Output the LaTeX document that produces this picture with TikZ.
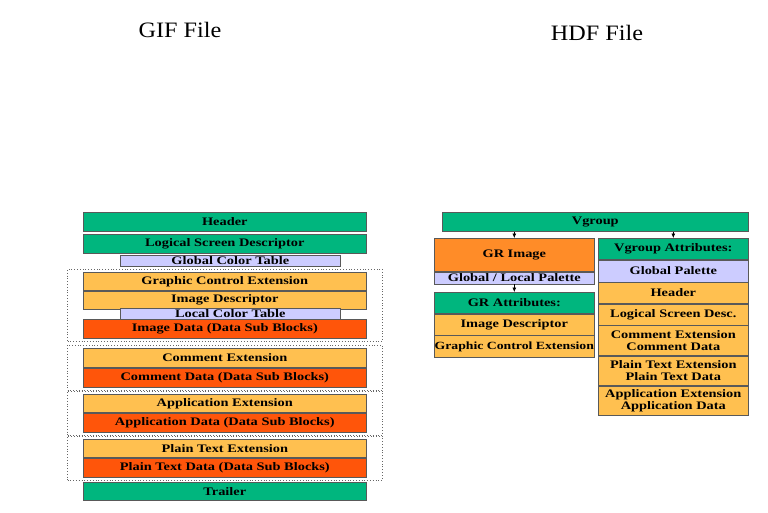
\documentclass[tikz,border=0pt]{standalone}
\usepackage{fontspec}
\setmainfont{Liberation Serif}
\newfontfamily\boxfont[FakeStretch=1.25]{Liberation Serif}
\newfontfamily\titlefont[FakeStretch=1.1]{Liberation Serif}
\usetikzlibrary{arrows.meta,positioning,fit}
\definecolor{hdrgreen}{RGB}{0,182,126}
\definecolor{extorange}{RGB}{255,192,80}
\definecolor{datared}{RGB}{255,85,10}
\definecolor{imgorange}{RGB}{255,140,40}
\definecolor{tablelav}{RGB}{204,204,255}
\tikzset{
    blk/.style={
        draw=black!65,
        line width=0.6pt,
        inner sep=0pt,
        align=center,
        font=\boxfont\bfseries\fontsize{11.5}{12}\selectfont
    },
    gifbar/.style={
        blk,
        minimum width=283pt,
        minimum height=19pt
    },
    tablebar/.style={
        blk,
        fill=tablelav,
        minimum width=220pt,
        minimum height=11pt
    },
    grbar/.style={
        blk,
        minimum width=160pt
    },
    attrbar/.style={
        blk,
        minimum width=150pt
    },
    group/.style={
        draw=black!60,
        dotted,
        line width=0.8pt,
        inner xsep=15.5pt,
        inner ysep=3pt
    },
    arrow/.style={
        -{Latex[length=4.5pt,width=4pt]},
        line width=0.6pt
    },
    title/.style={font=\titlefont\fontsize{22}{24}\selectfont}
}
\begin{document}
\begin{tikzpicture}[x=1pt,y=-1pt,node distance=0pt]
\useasboundingbox[fill=white] (0,0) rectangle (768,512);

\node[title] (giftitle) at (180,30) {GIF File};
\node[title] (hdftitle) at (597,33) {HDF File};

% GIF side
\node[gifbar, fill=hdrgreen, anchor=north west] (hdr) at (83,212) {Header};
\node[gifbar, fill=hdrgreen, anchor=north west] (lsd) at (83,234) {Logical Screen Descriptor};
\node[tablebar, anchor=north west] (gct) at (120,255) {Global Color Table};

\node[gifbar, fill=extorange, minimum height=18pt, anchor=north west] (gce) at (83,272) {Graphic Control Extension};
\node[gifbar, fill=extorange, minimum height=18pt, below=of gce] (imgdesc) {Image Descriptor};
\node[tablebar, anchor=north west] (lct) at (120,308) {Local Color Table};
\node[gifbar, fill=datared, anchor=north west] (imgdata) at (83,319) {Image Data (Data Sub Blocks)};

\node[gifbar, fill=extorange, anchor=north west] (cmtext) at (83,348) {Comment Extension};
\node[gifbar, fill=datared, below=of cmtext] (cmtdata) {Comment Data (Data Sub Blocks)};

\node[gifbar, fill=extorange, minimum height=18pt, anchor=north west] (appext) at (83,394) {Application Extension};
\node[gifbar, fill=datared, below=of appext] (appdata) {Application Data (Data Sub Blocks)};

\node[gifbar, fill=extorange, minimum height=18pt, anchor=north west] (ptext) at (83,439) {Plain Text Extension};
\node[gifbar, fill=datared, below=of ptext] (ptdata) {Plain Text Data (Data Sub Blocks)};

\node[gifbar, fill=hdrgreen, minimum height=18pt, anchor=north west] (trailer) at (83,482) {Trailer};

\node[group, fit=(gce)(imgdata)] (grp1) {};
\node[group, fit=(cmtext)(cmtdata)] (grp2) {};
\node[group, fit=(appext)(appdata)] (grp3) {};
\node[group, fit=(ptext)(ptdata)] (grp4) {};

% HDF side
\node[blk, fill=hdrgreen, minimum width=306pt, minimum height=19pt, anchor=north west] (vgroup) at (442,212) {Vgroup};

\node[grbar, fill=imgorange, minimum height=33pt, anchor=north west] (grimage) at (434,238) {GR Image};
\node[grbar, fill=tablelav, minimum height=12pt, below=of grimage] (palette) {Global / Local Palette};
\node[grbar, fill=hdrgreen, minimum height=21pt, anchor=north west] (grattr) at (434,292) {GR Attributes:};
\node[grbar, fill=extorange, minimum height=21pt, below=of grattr] (grdesc) {Image Descriptor};
\node[grbar, fill=extorange, minimum height=22pt, below=of grdesc,
      font=\boxfont\bfseries\fontsize{11}{12}\selectfont] (grgce) {Graphic Control Extension};

\node[attrbar, fill=hdrgreen, minimum height=21pt, anchor=north west] (vattr) at (598,238) {Vgroup Attributes:};
\node[attrbar, fill=tablelav, minimum height=22pt, below=of vattr] (gpal) {Global Palette};
\node[attrbar, fill=extorange, minimum height=21pt, below=of gpal] (vhdr) {Header};
\node[attrbar, fill=extorange, minimum height=21pt, below=of vhdr] (vlsd) {Logical Screen Desc.};
\node[attrbar, fill=extorange, minimum height=30pt, below=of vlsd] (vcmt) {Comment Extension\\Comment Data};
\node[attrbar, fill=extorange, minimum height=29pt, below=of vcmt] (vpt) {Plain Text Extension\\Plain Text Data};
\node[attrbar, fill=extorange, minimum height=29pt, below=of vpt] (vapp) {Application Extension\\Application Data};

\draw[arrow] (grimage.north |- vgroup.south) -- (grimage.north);
\draw[arrow] (vattr.north |- vgroup.south) -- (vattr.north);
\draw[arrow] (palette.south) -- (grattr.north);

\end{tikzpicture}
\end{document}
